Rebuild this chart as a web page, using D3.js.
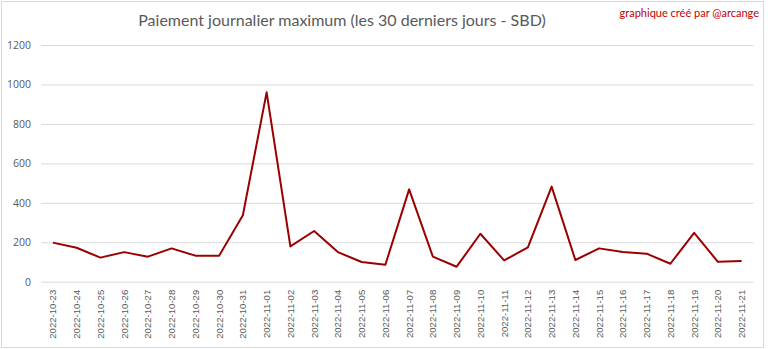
<!DOCTYPE html>
<html>
<head>
<meta charset="utf-8">
<script src="https://cdn.jsdelivr.net/npm/d3@7"></script>
<style>
  html, body { margin: 0; padding: 0; background: #fff; }
  svg { display: block; }
</style>
</head>
<body>
<svg id="chart" width="768" height="349"></svg>
<script>
// Daily maximum payout, last 30 days (SBD)
const dates = [
  "2022-10-23","2022-10-24","2022-10-25","2022-10-26","2022-10-27","2022-10-28",
  "2022-10-29","2022-10-30","2022-10-31","2022-11-01","2022-11-02","2022-11-03",
  "2022-11-04","2022-11-05","2022-11-06","2022-11-07","2022-11-08","2022-11-09",
  "2022-11-10","2022-11-11","2022-11-12","2022-11-13","2022-11-14","2022-11-15",
  "2022-11-16","2022-11-17","2022-11-18","2022-11-19","2022-11-20","2022-11-21"
];
const maxPayout = [
  198, 172, 122, 150, 127, 169, 132, 132, 337, 960, 179, 257,
  150, 100, 86, 468, 127, 76, 243, 108, 174, 482, 110, 169,
  150, 142, 91, 248, 101, 105
];
const yTicks = [0, 200, 400, 600, 800, 1000, 1200];

const title = "Paiement journalier maximum (les 30 derniers jours - SBD)";
const credit = "graphique créé par @arcange";

const W = 768, H = 349;
const plot = { left: 41, right: 753.5, top: 45, bottom: 281.7 };

const svg = d3.select("#chart");

// outer frame
svg.append("rect")
  .attr("x", 1.5).attr("y", 1.5)
  .attr("width", 762).attr("height", 346)
  .attr("fill", "#fff").attr("stroke", "#d9d9d9").attr("stroke-width", 1);

const x = d3.scaleBand().domain(dates).range([plot.left, plot.right]);
const y = d3.scaleLinear().domain([0, 1200]).range([plot.bottom, plot.top]);

// horizontal gridlines + y labels
const yAxis = d3.axisLeft(y)
  .tickValues(yTicks)
  .tickFormat(d3.format("d"))
  .tickSize(-(plot.right - plot.left))
  .tickPadding(10);
const gy = svg.append("g")
  .attr("transform", `translate(${plot.left},0)`)
  .call(yAxis);
gy.select(".domain").remove();
gy.selectAll(".tick line").attr("stroke", "#d9d9d9").attr("stroke-width", 1);
gy.selectAll(".tick text")
  .attr("fill", "#595959")
  .style("font-family", "'Open Sans', 'Noto Sans', sans-serif")
  .style("font-size", "10.5px");

// x axis labels (rotated)
const xAxis = d3.axisBottom(x).tickSize(0).tickPadding(0);
const gx = svg.append("g")
  .attr("transform", `translate(0,${plot.bottom})`)
  .call(xAxis);
gx.select(".domain").remove();
gx.selectAll(".tick text")
  .attr("fill", "#595959")
  .style("font-family", "'Liberation Sans', Arial, sans-serif")
  .style("font-size", "9.6px")
  .attr("text-anchor", "end")
  .attr("dy", "0.35em")
  .attr("transform", "translate(0,8) rotate(-90)")
  .attr("x", 0).attr("y", 0);

// data line
const line = d3.line()
  .x((d, i) => x(dates[i]) + x.bandwidth() / 2)
  .y(d => y(d));
svg.append("path")
  .datum(maxPayout)
  .attr("d", line)
  .attr("fill", "none")
  .attr("stroke", "#9b0000")
  .attr("stroke-width", 2)
  .attr("stroke-linejoin", "round");

// title
svg.append("text")
  .attr("x", 342).attr("y", 26)
  .attr("text-anchor", "middle")
  .attr("fill", "#595959")
  .style("font-family", "Lato, 'Open Sans', sans-serif")
  .style("font-size", "16px")
  .text(title);

// credit
svg.append("text")
  .attr("x", 759).attr("y", 17)
  .attr("text-anchor", "end")
  .attr("fill", "#c00000")
  .style("font-family", "Lato, 'Open Sans', sans-serif")
  .style("font-size", "11px")
  .text(credit);
</script>
</body>
</html>
